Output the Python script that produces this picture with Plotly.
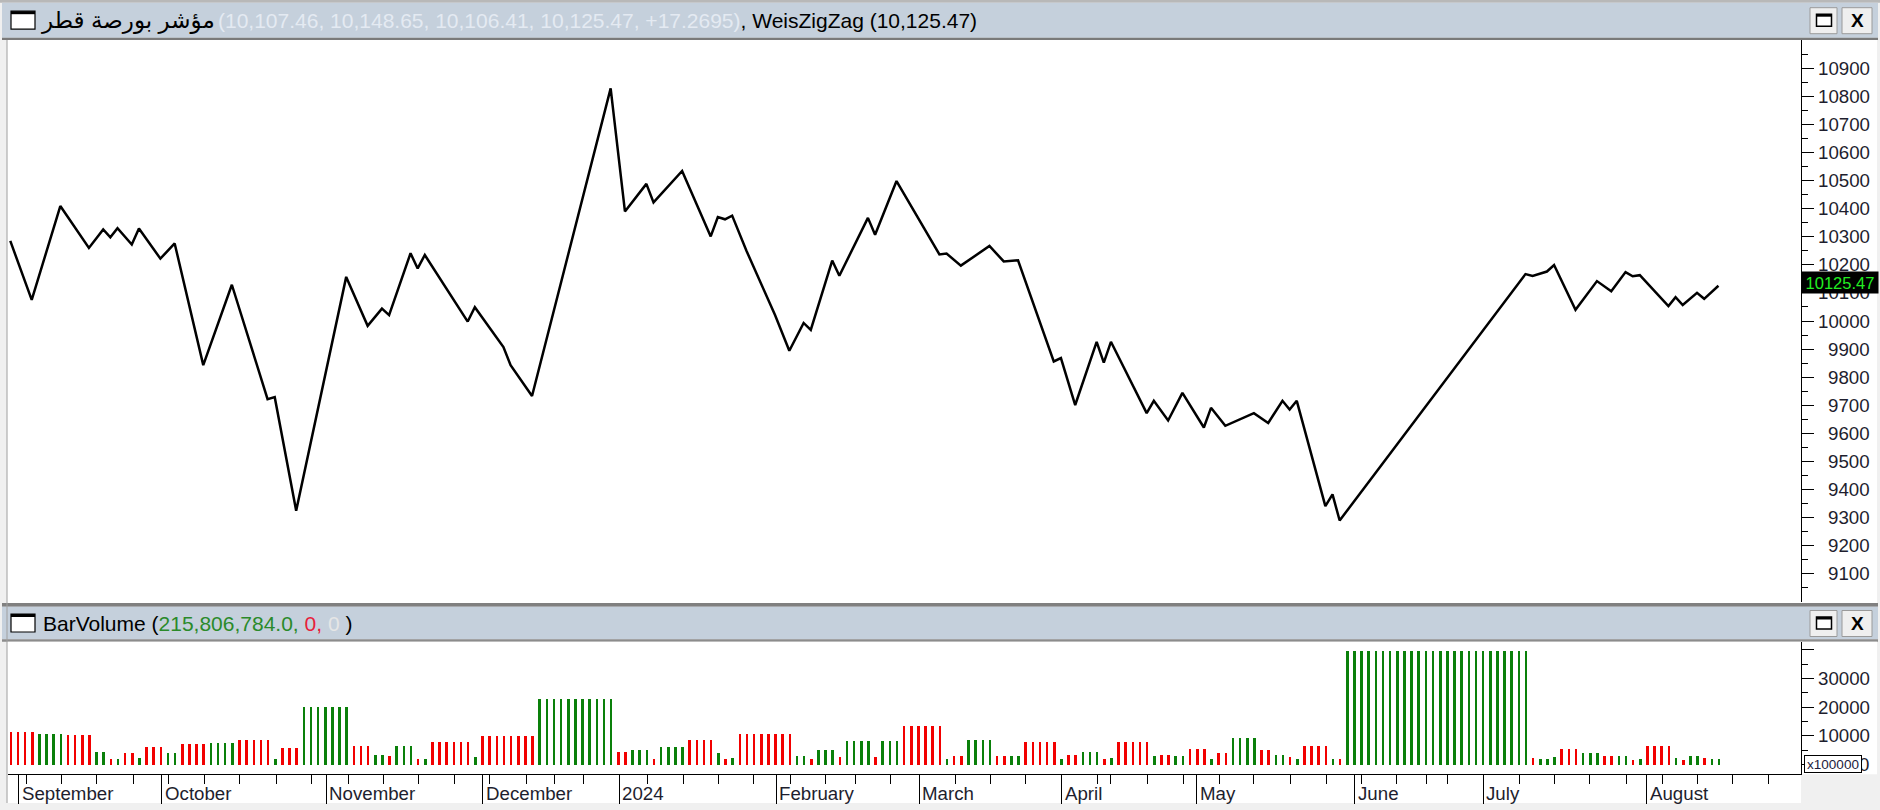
import plotly.graph_objects as go

W, H = 1880, 810

# ---------------- data ----------------
# WeisZigZag pivot points: bar index (trading day, 0 = 31 Aug 2023) and price
pivot_idx = [0, 3, 7, 11, 13, 14, 15, 17, 18, 21, 23, 27, 31, 36, 37, 40, 47, 50, 52, 53,
             56, 57, 58, 64, 65, 69, 70, 73, 84, 86, 89, 90, 94, 98, 99, 100, 101, 103, 107, 109,
             111, 112, 115, 116, 120, 121, 124, 130, 131, 133, 137, 139, 141, 146, 147, 149, 152, 153, 154, 159,
             160, 162, 164, 167, 168, 170, 174, 176, 178, 179, 180, 184, 185, 186, 212, 213, 215, 216, 219, 222,
             224, 226, 227, 228, 232, 233, 234, 236, 237, 239]
pivot_price = [10285, 10075, 10409, 10260, 10326, 10298, 10330, 10272, 10329, 10222, 10276, 9843, 10129, 9722, 9729, 9325, 10157, 9983, 10044, 10021,
               10241, 10187, 10235, 9998, 10049, 9907, 9843, 9733, 10828, 10390, 10488, 10422, 10534, 10301, 10370, 10362, 10375, 10250, 10021, 9894,
               9993, 9968, 10215, 10161, 10367, 10307, 10498, 10237, 10240, 10197, 10267, 10212, 10216, 9856, 9868, 9701, 9926, 9852, 9926, 9672,
               9716, 9646, 9744, 9621, 9691, 9627, 9672, 9637, 9716, 9685, 9716, 9341, 9383, 9290, 10167, 10160, 10176, 10199, 10040, 10142,
               10106, 10174, 10159, 10163, 10053, 10085, 10057, 10100, 10079, 10125.47]

# BarVolume (x100000), one value per trading day
vol_values = [
    11400, 11400, 11400, 11400, 10800, 10800, 10800, 10800, 10300, 10300, 10300, 10300,
    4500, 4500, 2000, 2000, 4100, 4100, 2500, 6200, 6200, 6200, 4100, 4100,
    7200, 7200, 7200, 7200, 7700, 7700, 7700, 7700, 8800, 8800, 8800, 8800, 8800, 2100, 5700, 5700, 5700,
    20200, 20200, 20200, 20200, 20200, 20200, 20200, 6600, 6600, 6600, 3500, 3500, 3000, 6600, 6600, 6600, 2100, 2100,
    7800, 7800, 7800, 7800, 7800, 7800, 2600,
    9900, 9900, 9900, 9900, 9900, 9900, 9900, 9900,
    22900, 22900, 22900, 22900, 22900, 22900, 22900, 22900, 22900, 22900, 22900,
    4600, 4600, 5100, 5100, 5100, 2100, 6200, 6200, 6200, 6200, 8700, 8700, 8700, 8700, 4100, 2100, 2300,
    10800, 10800, 10800, 10800, 10800, 10800, 10800, 10800, 2900, 2900, 2100, 5100, 5100, 5100, 2700,
    8200, 8200, 8200, 8200, 2700, 8200, 8200, 8200,
    13400, 13400, 13400, 13400, 13400, 13400, 2000, 2900, 2900, 8700, 8700, 8700, 8700, 2900, 2900, 2900, 2900,
    7800, 7800, 7800, 7800, 7800, 2100, 3500, 3500, 4500, 4500, 4500, 2100, 2300,
    7800, 7800, 7800, 7800, 7800, 3200, 3500, 3500, 2900, 2900, 5600, 5600, 5600, 2100, 4100, 4100,
    9200, 9200, 9200, 9200, 5000, 5000, 3500, 3500, 2700, 2100, 6600, 6600, 6600, 6600, 2100, 2100,
    39500, 39500, 39500, 39500, 39500, 39500, 39500, 39500, 39500, 39500, 39500, 39500, 39500,
    39500, 39500, 39500, 39500, 39500, 39500, 39500, 39500, 39500, 39500, 39500, 39500, 39500,
    2300, 1900, 1900, 2600, 5500, 5500, 5500, 4100, 4100, 4100, 2900, 2900, 3100, 3100, 1700, 2100,
    6600, 6600, 6600, 6600, 2300, 1500, 3100, 3100, 2300, 2160, 2160,
]
# wave direction per bar: r = down wave, g = up wave
vol_dir = list((
    "rrrr gggg rrrr gg r g rr g rrr gg rrrr gggg rrrrr g rrr ggggggg rrr gg r ggg r g rrrrrr g "
    "rrrrrrrr ggggggggggg rr ggg r gggg rrrr g r g rrrrrrrr gg r ggg r gggg r ggg rrrrrr g rr gggg rr gg "
    "rrrrr g rr ggg r g rrrrr g rr gg rrr g rr gggg rr gg r g rrrr g r "
    "gggggggggggggggggggggggggg r ggg rrr ggg rr gg r g rrrr g r gg r gg"
).replace(" ", ""))
bar_idx = list(range(len(vol_values)))

price_ticks = [9100, 9200, 9300, 9400, 9500, 9600, 9700, 9800, 9900, 10000,
               10100, 10200, 10300, 10400, 10500, 10600, 10700, 10800, 10900]
price_minor = [9050, 9150, 9250, 9350, 9450, 9550, 9650, 9750, 9850, 9950,
               10050, 10150, 10250, 10350, 10450, 10550, 10650, 10750, 10850, 10950]
vol_ticks = [0, 10000, 20000, 30000, 40000]
vol_minor = [5000, 15000, 25000, 35000]
vol_labels = ["", "10000", "20000", "30000", ""]

month_pos = [1.2, 21.2, 44.2, 66.1, 85.2, 107.2, 127.2, 147.1, 166.0, 188.1, 206.1, 229.0]
month_labels = ["September", "October", "November", "December", "2024", "February",
                "March", "April", "May", "June", "July", "August"]
week_pos = [2.2, 7.1, 12.1, 17.2, 22.2, 27.2, 32.1, 37.2, 42.2, 47.3, 52.2, 57.1, 62.1,
            67.1, 72.2, 76.2, 80.2, 89.1, 94.2, 99.1, 104.0, 109.1, 114.1, 118.2, 123.2,
            132.2, 137.1, 142.1, 152.1, 154.0, 159.1, 164.1, 169.2, 174.0, 179.1, 184.1,
            189.1, 194.0, 198.2, 201.1, 211.1, 216.0, 221.0, 226.1, 231.2, 236.1, 241.0, 246.0]

last_value_label = "10125.47"

# ---------------- styling ----------------
FONT = "Liberation Sans, Arial, DejaVu Sans, sans-serif"
RED = "#f20000"
GREEN = "#0a800a"
TITLE_BG = "#c5d0dc"
COLORS = {"r": RED, "g": GREEN}


def px(x):
    return x / W


def py(y):
    return 1 - y / H


X0, X1 = 7.5, 1801.0
XR = [-0.39, 250.55]
P_TOP, P_BOT = 40.0, 602.0
V_TOP, V_BOT = 641.7, 774.3

fig = go.Figure()
fig.add_trace(go.Scatter(x=pivot_idx, y=pivot_price, mode="lines",
                         line=dict(color="black", width=2.5), xaxis="x", yaxis="y",
                         hoverinfo="skip", showlegend=False))
fig.add_trace(go.Bar(x=bar_idx, y=vol_values, width=0.36,
                     marker=dict(color=[COLORS[c] for c in vol_dir], line=dict(width=0)),
                     xaxis="x2", yaxis="y2", hoverinfo="skip", showlegend=False))

shapes = []


def rect(x0, y0, x1, y1, fill, line=None, lw=0, layer="below"):
    shapes.append(dict(type="rect", xref="paper", yref="paper", x0=px(x0), x1=px(x1),
                       y0=py(y1), y1=py(y0), fillcolor=fill, layer=layer,
                       line=dict(color=line or fill, width=lw)))


def vline(x, y0, y1, color, lw=1, layer="below"):
    shapes.append(dict(type="line", xref="paper", yref="paper", x0=px(x), x1=px(x),
                       y0=py(y0), y1=py(y1), line=dict(color=color, width=lw), layer=layer))


# frame / title bars
rect(0, 0, 1880, 2.7, "#b8b8b8")
rect(2, 2.7, 1878, 37.7, TITLE_BG)
rect(2, 37.7, 1878, 40, "#7a7a7a")
rect(X0, P_TOP, 1877, P_BOT, "white")
rect(2, 603, 1878, 606.7, "#808080")
rect(X0, P_BOT, 1877, 603, "white")
rect(2, 606.7, 1878, 639.3, TITLE_BG)
rect(2, 639.3, 1878, V_TOP, "#8c8c8c")
rect(X0, V_TOP, 1877, V_BOT, "white")
rect(X0, V_BOT, X1, 803, "white")
vline(7, P_TOP, 803, "#a0a0a0")

annotations = []


def text(x, y, s, size, color="black", xanchor="left", yanchor="middle", **kw):
    annotations.append(dict(x=px(x), y=py(y), xref="paper", yref="paper", text=s,
                            showarrow=False, xanchor=xanchor, yanchor=yanchor,
                            font=dict(family=FONT, size=size, color=color), **kw))


# window icons + buttons in both title bars
for cy in (20.2, 623.0):
    rect(11, cy - 9, 35, cy + 9, "white", "black", 1.2)
    rect(11, cy - 9, 35, cy - 6, "black")
    top, bot = cy - 12.5, cy + 13.5
    rect(1810, top, 1837, bot, "#efefef", "#9a9a9a", 1)
    rect(1842, top, 1872, bot, "#efefef", "#9a9a9a", 1)
    rect(1816.5, cy - 6, 1831.5, cy + 6, "white", "black", 1.5)
    rect(1816.5, cy - 6, 1831.5, cy - 3.5, "black")
    text(1857, cy + 0.5, "<b>X</b>", 19, xanchor="center")

# price panel title
text(39, 21, "مؤشر بورصة قطر", 23)
text(216, 21, '<span style="color:#e4eaf2">(10,107.46, 10,148.65, 10,106.41, 10,125.47, +17.2695)</span>'
              ", WeisZigZag (10,125.47)", 21)
# volume panel title
text(41, 623.5, 'BarVolume (<span style="color:#2a8a2a">215,806,784.0,</span>'
                '<span style="color:#e8203a"> 0,</span><span style="color:#e6e6e6"> 0</span> )', 21)

# price axis labels
for v in price_ticks:
    annotations.append(dict(x=px(1872), xref="paper", y=v, yref="y", text=str(v),
                            showarrow=False, xanchor="right", yanchor="middle",
                            font=dict(family=FONT, size=18.7, color="#1e1e2e")))
# last value box
annotations.append(dict(x=px(1840), xref="paper", y=py(282.7), yref="paper",
                        text=last_value_label, showarrow=False, xanchor="center",
                        yanchor="middle", bgcolor="black", width=74, height=19, borderpad=1,
                        font=dict(family=FONT, size=16.5, color="#22ee22")))

# volume axis labels
for v, lab in zip(vol_ticks, vol_labels):
    if lab:
        annotations.append(dict(x=px(1872), xref="paper", y=v, yref="y2", text=lab,
                                showarrow=False, xanchor="right", yanchor="middle",
                                font=dict(family=FONT, size=18.7, color="#1e1e2e")))
annotations.append(dict(x=px(1871), xref="paper", y=0, yref="y2", text="0",
                        showarrow=False, xanchor="right", yanchor="middle",
                        font=dict(family=FONT, size=18.7, color="#1e1e2e")))
annotations.append(dict(x=px(1833), xref="paper", y=py(764.2), yref="paper", text="x100000",
                        showarrow=False, xanchor="center", yanchor="middle",
                        bgcolor="white", bordercolor="black", borderwidth=1, borderpad=1,
                        width=54, height=14,
                        font=dict(family=FONT, size=13.5, color="#1c1c3c")))

# month labels
for pos, lab in zip(month_pos, month_labels):
    annotations.append(dict(x=pos, xref="x2", y=py(793), yref="paper", text=lab,
                            showarrow=False, xanchor="left", yanchor="middle", xshift=1,
                            font=dict(family=FONT, size=18.7, color="#1e1e2e")))

axis_common = dict(showgrid=False, zeroline=False, fixedrange=True)

fig.update_layout(
    width=W, height=H, autosize=False,
    margin=dict(l=0, r=0, t=0, b=0, pad=0),
    paper_bgcolor="#f0f0f0", plot_bgcolor="white",
    showlegend=False, bargap=0,
    xaxis=dict(domain=[px(X0), px(X1)], range=XR, anchor="y", showticklabels=False,
               ticks="", showline=False, **axis_common),
    yaxis=dict(domain=[py(P_BOT), py(P_TOP)], range=[9000, 11000], anchor="x", side="right",
               showline=True, linecolor="black", linewidth=1, ticks="outside", ticklen=12,
               tickcolor="black", tickwidth=1, tickmode="array", tickvals=price_ticks,
               showticklabels=False,
               minor=dict(ticks="outside", ticklen=6, tickcolor="black", tickwidth=1,
                          tickmode="array", tickvals=price_minor),
               **axis_common),
    xaxis2=dict(domain=[px(X0), px(X1)], range=XR, anchor="y2", showticklabels=False,
                showline=True, linecolor="black", linewidth=1, ticks="outside", ticklen=29,
                tickcolor="black", tickwidth=1, tickmode="array", tickvals=month_pos,
                minor=dict(ticks="outside", ticklen=9, tickcolor="black", tickwidth=1,
                           tickmode="array", tickvals=week_pos),
                **axis_common),
    yaxis2=dict(domain=[py(V_BOT), py(V_TOP)], range=[-3415, 42787], anchor="x2", side="right",
                showline=True, linecolor="black", linewidth=1, ticks="outside", ticklen=12,
                tickcolor="black", tickwidth=1, tickmode="array", tickvals=vol_ticks,
                showticklabels=False,
                minor=dict(ticks="outside", ticklen=6, tickcolor="black", tickwidth=1,
                           tickmode="array", tickvals=vol_minor),
                **axis_common),
    shapes=shapes,
    annotations=annotations,
)

assert len(vol_values) == len(vol_dir) == 240, (len(vol_values), len(vol_dir))

fig.write_html("out.html", config={"displayModeBar": False},
               post_script="document.body.style.margin='0px';"
                           "document.body.style.overflow='hidden';")
